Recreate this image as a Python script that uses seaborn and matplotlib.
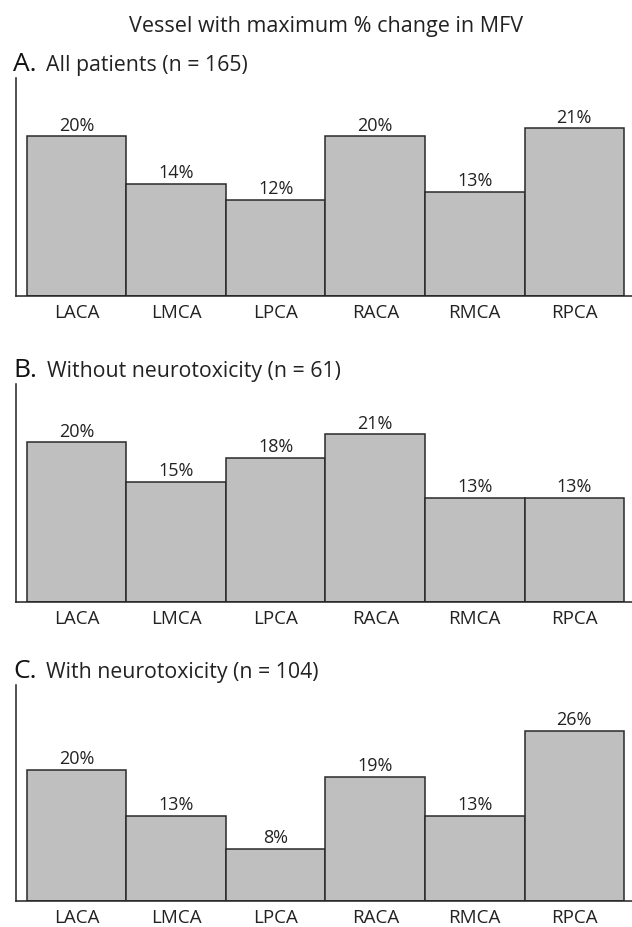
import matplotlib
matplotlib.use("Agg")
import matplotlib.pyplot as plt
import pandas as pd
import seaborn as sns

vessels = ["LACA", "LMCA", "LPCA", "RACA", "RMCA", "RPCA"]
all_patients = [20, 14, 12, 20, 13, 21]
without_neurotox = [20, 15, 18, 21, 13, 13]
with_neurotox = [20, 13, 8, 19, 13, 26]

panel_letters = ["A.", "B.", "C."]
panel_titles = [
    "All patients (n = 165)",
    "Without neurotoxicity (n = 61)",
    "With neurotoxicity (n = 104)",
]
panel_values = [all_patients, without_neurotox, with_neurotox]
panel_ymax = [27.3, 27.3, 33.0]

sns.set_theme(style="white")
plt.rcParams["font.family"] = ["Open Sans", "DejaVu Sans"]

W, H = 632, 928
fig = plt.figure(figsize=(W / 100, H / 100), dpi=100)

# axes boxes in pixels: (top, bottom)
boxes = [(79, 297), (385, 603), (686, 902)]
x_left, x_right = 16, 632

axes = []
for (top, bottom) in boxes:
    ax = fig.add_axes([x_left / W, (H - bottom) / H, (x_right - x_left) / W, (bottom - top) / H])
    axes.append(ax)

fig.text(326 / W, 1 - 32 / H, "Vessel with maximum % change in MFV",
         ha="center", va="baseline", fontsize=15.5, color="#222222")

labels = []
for ax, letter, title, vals, ymax in zip(axes, panel_letters, panel_titles, panel_values, panel_ymax):
    df = pd.DataFrame({"vessel": vessels, "pct": vals})
    sns.barplot(data=df, x="vessel", y="pct", width=1.0, color="#bfbfbf",
                saturation=1, edgecolor="#2a2a2a", linewidth=1.1, ax=ax)
    ax.bar_label(ax.containers[0], labels=[f"{v}%" for v in vals],
                 padding=2, fontsize=13, color="#222222")
    ax.set_xlim(-0.61, 5.58)
    ax.set_ylim(0, ymax)
    ax.set_xlabel("")
    ax.set_ylabel("")
    ax.set_yticks([])
    ax.tick_params(axis="x", length=0, pad=5, labelsize=13.5, labelcolor="#222222")
    for side in ["top", "right"]:
        ax.spines[side].set_visible(False)
    for side in ["left", "bottom"]:
        ax.spines[side].set_color("#222222")
        ax.spines[side].set_linewidth(1.1)
    t1 = ax.annotate(letter, xy=(0, 1), xycoords="axes fraction",
                     xytext=(-3, 8), textcoords="offset pixels",
                     fontsize=19, va="baseline", ha="left", color="#111111")
    labels.append((ax, t1, title))

fig.canvas.draw()
renderer = fig.canvas.get_renderer()
for ax, t1, title in labels:
    bb = t1.get_window_extent(renderer)
    ax_top = ax.get_window_extent(renderer).y1
    ax.annotate(title, xy=(bb.x1 + 10, ax_top + 8), xycoords="figure pixels",
                fontsize=15.3, va="baseline", ha="left", color="#222222")

fig.savefig("out.png", dpi=100)
